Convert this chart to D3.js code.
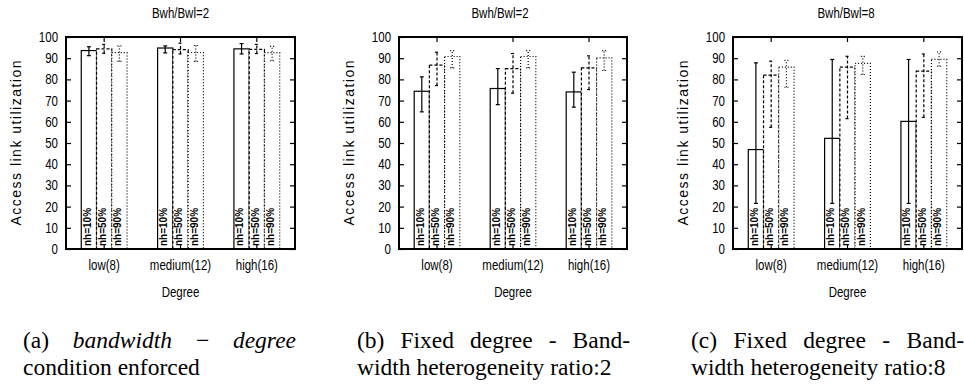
<!DOCTYPE html>
<html>
<head>
<meta charset="utf-8">
<script src="https://cdn.jsdelivr.net/npm/d3@7"></script>
<style>
body { margin: 0; background: #fff; }
svg { display: block; }
</style>
</head>
<body>
<svg id="fig" width="964" height="385"></svg>
<script>
// categories / series / ticks
var categories = ["low(8)", "medium(12)", "high(16)"];
var seriesNames = ["nh=10%", "nh=50%", "nh=90%"];
var panelTitles = ["Bwh/Bwl=2", "Bwh/Bwl=2", "Bwh/Bwl=8"];
var yTicks = [0, 10, 20, 30, 40, 50, 60, 70, 80, 90, 100];

// values: one row per series (nh=10%, 50%, 90%), one column per category
var meanA = [[93.6, 94.8, 94.4], [94.4, 94.0, 94.2], [92.6, 92.7, 92.6]];
var lowA  = [[91.2, 92.5, 92.0], [92.3, 92.0, 92.2], [88.5, 88.5, 88.8]];
var highA = [[95.4, 95.8, 96.9], [96.5, 97.1, 96.5], [95.8, 96.0, 95.6]];

var meanB = [[74.4, 75.7, 74.1], [86.7, 85.1, 85.4], [90.8, 90.8, 90.2]];
var lowB  = [[64.7, 68.1, 66.9], [77.1, 73.5, 75.2], [85.4, 85.4, 84.2]];
var highB = [[81.2, 85.1, 83.4], [92.8, 92.2, 91.1], [93.6, 93.6, 93.6]];

var meanC = [[46.9, 52.2, 60.2], [82.0, 85.8, 83.9], [85.8, 87.6, 89.4]];
var lowC  = [[21.5, 21.5, 21.5], [57.4, 61.5, 62.1], [76.3, 82.3, 86.2]];
var highC = [[87.8, 89.4, 89.4], [88.6, 90.9, 92.0], [89.0, 90.9, 93.0]];

var captionFirst = [
    [{t: "(a)"}, {t: "bandwidth", i: true}, {t: "\u2212"}, {t: "degree", i: true}],
    [{t: "(b)"}, {t: "Fixed"}, {t: "degree"}, {t: "-"}, {t: "Band-"}],
    [{t: "(c)"}, {t: "Fixed"}, {t: "degree"}, {t: "-"}, {t: "Band-"}]
];
var captionSecond = ["condition enforced", "width heterogeneity ratio:2", "width heterogeneity ratio:8"];

var panelData = [
    {mean: meanA, low: lowA, high: highA},
    {mean: meanB, low: lowB, high: highB},
    {mean: meanC, low: lowC, high: highC}
];

// layout
var plotLeft = [66, 399, 733];
var plotWidth = [229, 228, 229];
var titleX = [180.5, 500, 846];
var captionX = [23, 357, 691];
var captionW = 273;
var TOP = 37, BOTTOM = 249;
var dashes = [null, "3,2", "1,2"];
var SANS = "'Liberation Sans', Arial, Helvetica, sans-serif";

var svg = d3.select("#fig");
svg.append("rect").attr("width", 964).attr("height", 385).attr("fill", "#fff");

// no condensed Helvetica available: squeeze Liberation Sans horizontally
function narrow(sel) {
    sel.attr("font-family", SANS).attr("font-size", 14).attr("fill", "#000");
    sel.each(function () {
        var len = this.getComputedTextLength();
        d3.select(this).attr("textLength", len * 0.82).attr("lengthAdjust", "spacingAndGlyphs");
    });
}

function makePanel(svg, k) {
    var w = plotWidth[k], h = BOTTOM - TOP;
    var d = panelData[k];
    var g = svg.append("g").attr("transform", "translate(" + plotLeft[k] + "," + TOP + ")");

    var y = d3.scaleLinear().domain([0, 100]).range([h, 0]);
    var x0 = d3.scaleBand().domain(categories).range([0, w]);
    var x1 = d3.scaleBand().domain(seriesNames)
        .range([x0.bandwidth() * 0.2, x0.bandwidth() * 0.8]);

    // flatten to one record per bar
    var bars = [];
    seriesNames.forEach(function (s, si) {
        categories.forEach(function (c, ci) {
            bars.push({s: s, si: si, c: c, v: d.mean[si][ci], lo: d.low[si][ci], hi: d.high[si][ci]});
        });
    });

    var bg = g.selectAll(".bar")
        .data(bars)
        .enter()
        .append("g")
        .attr("class", "bar")
        .attr("stroke", "#000")
        .attr("stroke-width", 1.2)
        .attr("stroke-dasharray", function (b) { return dashes[b.si]; })
        .attr("fill", "none");

    bg.append("rect")
        .attr("x", function (b) { return x0(b.c) + x1(b.s); })
        .attr("y", function (b) { return y(b.v); })
        .attr("width", x1.bandwidth())
        .attr("height", function (b) { return y(0) - y(b.v); })
        .attr("fill", "#fff");

    // error bars
    var cx = function (b) { return x0(b.c) + x1(b.s) + x1.bandwidth() / 2; };
    bg.append("line")
        .attr("x1", cx).attr("x2", cx)
        .attr("y1", function (b) { return y(b.lo); })
        .attr("y2", function (b) { return y(b.hi); });
    ["lo", "hi"].forEach(function (key) {
        bg.append("line")
            .attr("stroke-dasharray", null)
            .attr("x1", function (b) { return cx(b) - 2; })
            .attr("x2", function (b) { return cx(b) + 2; })
            .attr("y1", function (b) { return y(b[key]); })
            .attr("y2", function (b) { return y(b[key]); });
    });

    // nh labels inside the bars
    g.selectAll(".nh")
        .data(bars)
        .enter()
        .append("text")
        .attr("class", "nh")
        .attr("transform", function (b) {
            return "translate(" + (x0(b.c) + x1(b.s) + 9.5) + "," + (h - 3) + ") rotate(-90)";
        })
        .attr("font-family", SANS)
        .attr("font-weight", "bold")
        .attr("font-size", 10)
        .text(function (b) { return b.s; });

    // axes, ticks pointing inward
    var yl = g.append("g")
        .call(d3.axisLeft(y).tickValues(yTicks).tickSizeInner(-5).tickSizeOuter(0).tickPadding(8));
    var yr = g.append("g").attr("transform", "translate(" + w + ",0)")
        .call(d3.axisRight(y).tickValues(yTicks).tickSizeInner(-5).tickSizeOuter(0).tickFormat(""));
    var xt = g.append("g")
        .call(d3.axisTop(x0).tickSizeInner(-5).tickSizeOuter(0).tickFormat(""));
    var xb = g.append("g").attr("transform", "translate(0," + h + ")")
        .call(d3.axisBottom(x0).tickSizeInner(-5).tickSizeOuter(0).tickPadding(11));
    [yl, yr, xt, xb].forEach(function (a) {
        a.select(".domain").remove();
        a.selectAll("line").attr("stroke", "#000").attr("stroke-width", 1.2);
        narrow(a.selectAll("text").filter(function () { return this.textContent !== ""; }));
    });

    // frame
    g.append("rect")
        .attr("width", w).attr("height", h)
        .attr("fill", "none").attr("stroke", "#000").attr("stroke-width", 2);

    // titles and axis labels
    narrow(svg.append("text")
        .attr("x", titleX[k]).attr("y", 17.5)
        .attr("text-anchor", "middle")
        .text(panelTitles[k]));
    narrow(svg.append("text")
        .attr("x", plotLeft[k] + w / 2).attr("y", 297)
        .attr("text-anchor", "middle")
        .text("Degree"));
    svg.append("text")
        .attr("transform", "translate(" + (plotLeft[k] - 45.5) + "," + (TOP + h / 2) + ") rotate(-90)")
        .attr("text-anchor", "middle")
        .attr("font-family", SANS)
        .attr("font-size", 14)
        .attr("textLength", 165)
        .attr("lengthAdjust", "spacing")
        .text("Access link utilization");
}

function makeCaption(svg, k) {
    var font = "'Liberation Serif', 'Times New Roman', serif";
    var parts = captionFirst[k];
    var nodes = parts.map(function (p) {
        return svg.append("text")
            .attr("y", 348)
            .attr("font-family", font)
            .attr("font-size", 23.5)
            .attr("font-style", p.i ? "italic" : "normal")
            .text(p.t);
    });
    var lens = nodes.map(function (n) { return n.node().getComputedTextLength(); });
    var gap = (captionW - d3.sum(lens)) / (parts.length - 1);
    var x = captionX[k];
    nodes.forEach(function (n, i) {
        n.attr("x", x);
        x += lens[i] + gap;
    });
    svg.append("text")
        .attr("x", captionX[k]).attr("y", 375)
        .attr("font-family", font)
        .attr("font-size", 23.5)
        .text(captionSecond[k]);
}

for (var k = 0; k < 3; k++) {
    makePanel(svg, k);
    makeCaption(svg, k);
}
</script>
</body>
</html>
